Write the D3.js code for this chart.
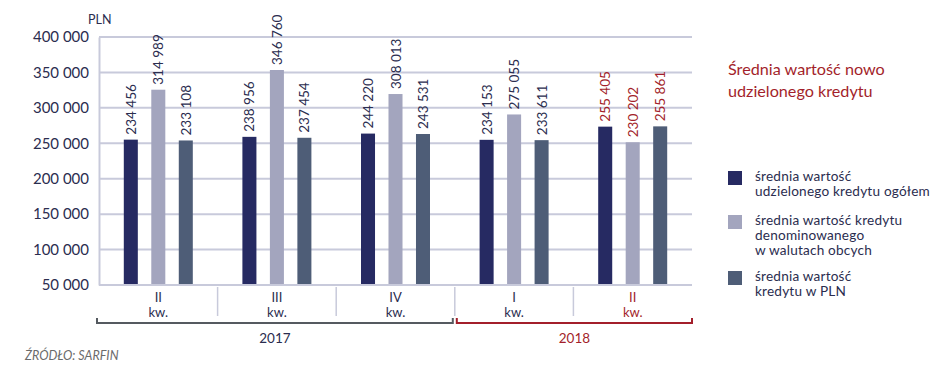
<!DOCTYPE html>
<head>
  <meta charset="utf-8">
  <script src="https://d3js.org/d3.v7.min.js"></script>
  <title>Średnia wartość nowo udzielonego kredytu</title>
  <style>
    body { margin: 0; background: #fff; }
    svg { font-family: Lato, "Open Sans", sans-serif; }
  </style>
</head>
<body>
<svg id="chart" width="945" height="378"></svg>
<script>
  // data
  const quarters = ["II", "III", "IV", "I", "II"];
  const years = ["2017", "2017", "2017", "2018", "2018"];
  const ogolem = [234456, 238956, 244220, 234153, 255405];
  const walutowe = [314989, 346760, 308013, 275055, 230202];
  const pln = [233108, 237454, 243531, 233611, 255861];
  const yTicks = [50000, 100000, 150000, 200000, 250000, 300000, 350000, 400000];
  const seriesNames = [
    ["średnia wartość", "udzielonego kredytu ogółem"],
    ["średnia wartość kredytu", "denominowanego", "w walutach obcych"],
    ["średnia wartość", "kredytu w PLN"]
  ];

  const colors = ["#262a62", "#a3a5be", "#4e5d77"];
  const red = "#a31f2b";
  const ink = "#2b2d4f";
  const grid = "#c8cadb";

  const svg = d3.select("#chart");
  const plotL = 99, plotR = 692, plotT = 37, plotB = 285;

  const x = d3.scaleBand().domain(d3.range(quarters.length)).range([plotL, plotR]);
  const xs = d3.scaleBand().domain([0, 1, 2]).range([-34.5, 34.5]).paddingInner(0.49).paddingOuter(0);
  // bars are drawn from zero, the axis labels start at 50 000 (as in the original)
  const yBar = d3.scaleLinear().domain([0, 400000]).range([plotB, plotT]);
  const yAxis = d3.scaleLinear().domain([50000, 400000]).range([plotB, plotT]);

  const fmt = v => d3.format(",")(v).replace(/,/g, " ");

  // grid
  svg.append("g").selectAll("line").data(yTicks).join("line")
    .attr("x1", plotL).attr("x2", plotR)
    .attr("y1", d => yAxis(d)).attr("y2", d => yAxis(d))
    .attr("stroke", grid).attr("stroke-width", 2);

  const ax = svg.append("g").attr("transform", `translate(${plotL},0)`)
    .call(d3.axisLeft(yAxis).tickValues(yTicks).tickSize(0).tickPadding(10).tickFormat(fmt));
  ax.select(".domain").attr("stroke", grid).attr("stroke-width", 2);
  ax.selectAll("text").attr("font-size", 15).attr("fill", ink).attr("font-family", "Lato");

  svg.append("text").attr("x", 88).attr("y", 24).attr("font-size", 12.5)
    .attr("fill", ink).text("PLN");

  // bars
  const series = [ogolem, walutowe, pln];
  series.forEach((vals, s) => {
    const g = svg.append("g");
    g.selectAll("rect").data(vals).join("rect")
      .attr("x", (d, i) => x(i) + x.bandwidth() / 2 + xs(s))
      .attr("width", xs.bandwidth())
      .attr("y", d => yBar(d))
      .attr("height", d => plotB - yBar(d))
      .attr("fill", colors[s]);
    g.selectAll("text").data(vals).join("text")
      .attr("transform", (d, i) => `translate(${x(i) + x.bandwidth() / 2 + xs(s) + xs.bandwidth() / 2 + 5},${yBar(d) - 5}) rotate(-90)`)
      .attr("font-size", 13.5)
      .attr("fill", (d, i) => i === 4 ? red : ink)
      .text(fmt);
  });

  // category axis
  svg.append("line").attr("x1", plotL).attr("x2", plotR).attr("y1", plotB).attr("y2", plotB)
    .attr("stroke", grid).attr("stroke-width", 2);
  svg.append("g").selectAll("line").data(d3.range(1, quarters.length)).join("line")
    .attr("x1", d => x(d)).attr("x2", d => x(d))
    .attr("y1", plotB + 2).attr("y2", 316)
    .attr("stroke", grid).attr("stroke-width", 1.5);
  const catG = svg.append("g").attr("text-anchor", "middle").attr("font-size", 13);
  catG.selectAll(".q").data(quarters).join("text").attr("class", "q")
    .attr("x", (d, i) => x(i) + x.bandwidth() / 2).attr("y", 302)
    .attr("fill", (d, i) => i === 4 ? red : ink).text(d => d);
  catG.selectAll(".kw").data(quarters).join("text").attr("class", "kw")
    .attr("x", (d, i) => x(i) + x.bandwidth() / 2).attr("y", 317)
    .attr("fill", (d, i) => i === 4 ? red : ink).text("kw.");

  // year brackets
  const yearGroups = d3.groups(d3.range(years.length), i => years[i]);
  yearGroups.forEach(([yr, idx], k) => {
    const x0 = x(idx[0]) + (k === 0 ? -2 : 2);
    const x1 = x(idx[idx.length - 1]) + x.bandwidth() + (k === 0 ? -2 : 0);
    const c = k === 0 ? "#555a60" : red;
    svg.append("path")
      .attr("d", `M${x0},318V323H${x1}V318`)
      .attr("fill", "none").attr("stroke", c).attr("stroke-width", 2);
    svg.append("text").attr("x", (x0 + x1) / 2).attr("y", 343)
      .attr("text-anchor", "middle").attr("font-size", 13.5)
      .attr("fill", k === 0 ? ink : red).text(yr);
  });

  // legend
  const lg = svg.append("g");
  lg.append("text").attr("font-size", 16.2).attr("fill", red)
    .selectAll("tspan").data(["Średnia wartość nowo", "udzielonego kredytu"]).join("tspan")
    .attr("x", 728).attr("y", (d, i) => 75 + i * 22).text(d => d);
  const legY = [171, 215, 271];
  seriesNames.forEach((lines, s) => {
    lg.append("rect").attr("x", 728).attr("y", legY[s]).attr("width", 14).attr("height", 14)
      .attr("fill", colors[s]);
    lg.append("text").attr("font-size", 13.6).attr("letter-spacing", 0.2).attr("fill", ink)
      .selectAll("tspan").data(lines).join("tspan")
      .attr("x", 755).attr("y", (d, i) => legY[s] + 10 + i * 15).text(d => d);
  });

  svg.append("text").attr("x", 25).attr("y", 360).attr("font-size", 12.5)
    .attr("font-style", "italic").attr("fill", "#6b6b6b").text("ŹRÓDŁO: SARFIN");
</script>
</body>
